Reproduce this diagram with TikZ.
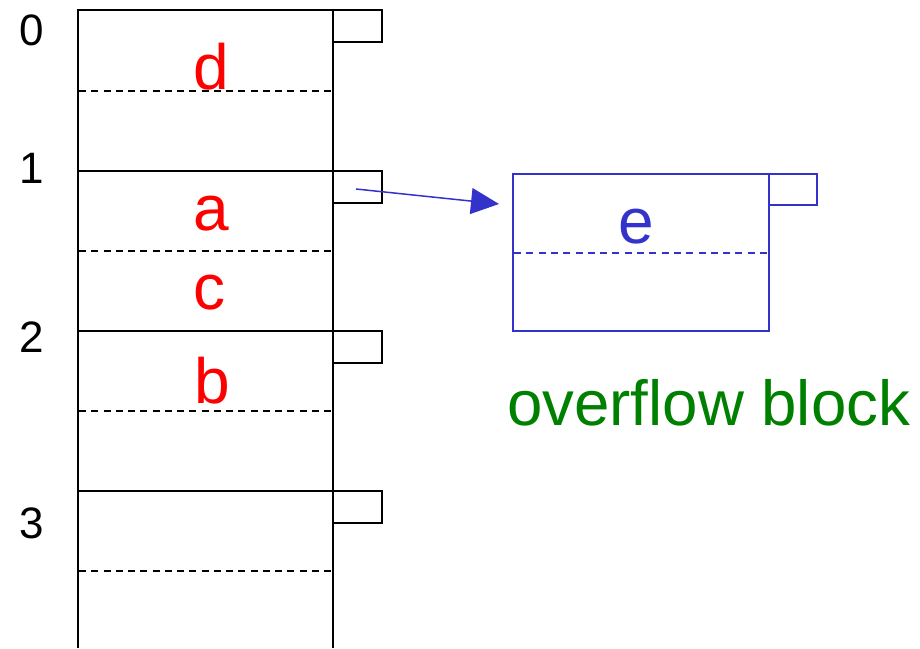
\documentclass[tikz,border=0pt]{standalone}
\usepackage{fontspec}
\setmainfont{Liberation Sans}
\usetikzlibrary{arrows.meta}
\definecolor{keyred}{RGB}{255,0,0}
\definecolor{ovblue}{RGB}{51,51,204}
\definecolor{ovgreen}{RGB}{0,128,0}
\begin{document}
\begin{tikzpicture}[x=1pt,y=-1pt,
  solidline/.style={line width=1.8pt,black},
  slotline/.style={line width=1.5pt,black,dash pattern=on 7pt off 5.25pt},
  ptrbox/.style={line width=1.8pt,black},
  bucketnum/.style={anchor=base,font=\fontsize{44}{48}\selectfont},
  keytext/.style={anchor=base,text=keyred,font=\fontsize{64}{70}\selectfont,inner sep=0pt},
  ovline/.style={line width=1.7pt,ovblue},
  ovdash/.style={line width=1.5pt,ovblue,dash pattern=on 7pt off 5.3pt},
]
\useasboundingbox (0,0) rectangle (920,648);

% bucket column
\draw[solidline] (78,648) -- (78,10) -- (333,10) -- (333,648);
\foreach \y in {171,331,491} \draw[solidline] (78,\y) -- (333,\y);
\foreach \y in {91,251,411,571} \draw[slotline] (79,\y) -- (331,\y);

% overflow pointer boxes
\foreach \y in {10,171,331,491}
  \draw[ptrbox] (333,\y) -- (382,\y) -- (382,\y+32) -- (333,\y+32);

% bucket numbers
\node[bucketnum] (n0) at (32,45) {0};
\node[bucketnum] (n1) at (32,183) {1};
\node[bucketnum] (n2) at (32,352) {2};
\node[bucketnum] (n3) at (32,538) {3};

% keys
\node[keytext] (kd) at (211,89) {d};
\node[keytext] (ka) at (211,230) {a};
\node[keytext] (kc) at (209,309) {c};
\node[keytext] (kb) at (212,403) {b};

% overflow block
\draw[ovline] (513,174) rectangle (769,331);
\draw[ovdash] (514,253) -- (767,253);
\draw[ovline] (769,174) -- (817,174) -- (817,205) -- (769,205);
\node[anchor=base,text=ovblue,font=\fontsize{64}{70}\selectfont,inner sep=0pt] (ke) at (636,243) {e};
\node[anchor=base west,text=ovgreen,font=\fontsize{63.6}{70}\selectfont,inner sep=0pt] (ovlabel) at (507,425) {overflow block};

% chain pointer from bucket 1
\coordinate (ptr1) at (356,189);
\coordinate (ovin) at (499,204);
\draw[ovline,line width=1.5pt,-{Triangle[length=28pt,width=26pt]}] (ptr1) -- (ovin);
\end{tikzpicture}
\end{document}
